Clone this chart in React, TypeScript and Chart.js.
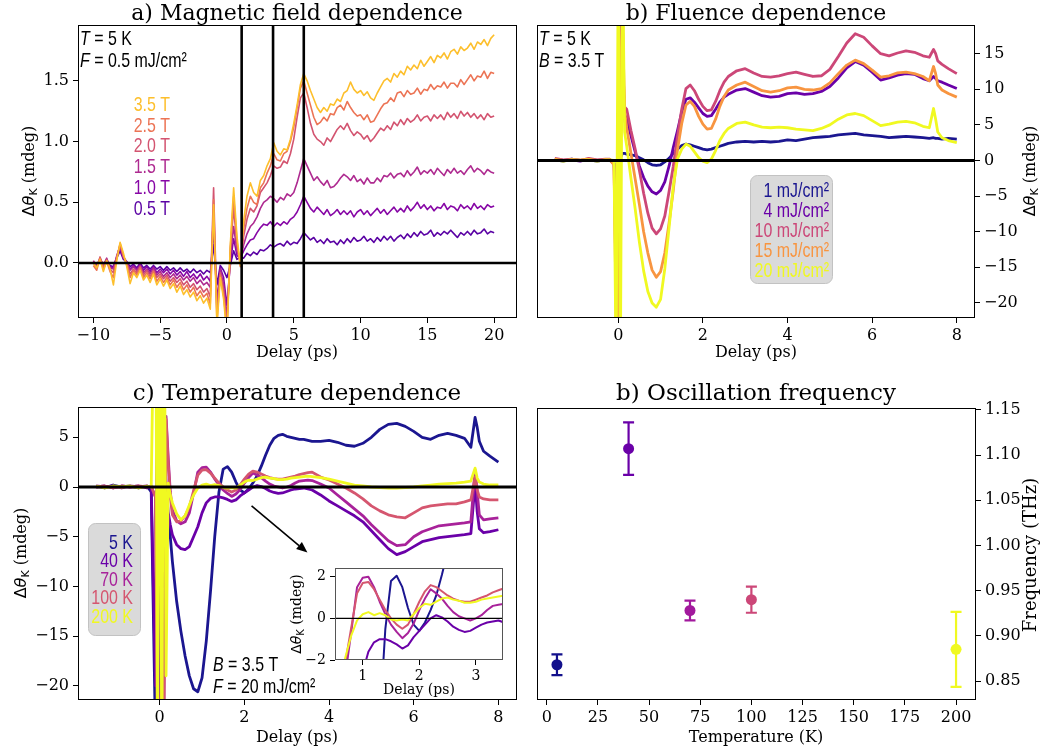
import React, { useEffect, useRef } from 'react';
import { Chart, registerables } from 'chart.js';

Chart.register(...registerables);

const W = 1048;
const H = 755;
const SERIF = '"DejaVu Serif", serif';
const SANS = '"DejaVu Sans", sans-serif';
const NARROW = '"Liberation Sans", Arial, sans-serif';
const NSX = 0.76;

// ---------------- (a) Magnetic field dependence ----------------
const delayA = [-10,-9.75,-9.5,-9.25,-9,-8.75,-8.5,-8.25,-8,-7.75,-7.5,-7.25,-7,-6.75,-6.5,-6.25,-6,-5.75,-5.5,-5.25,-5,-4.75,-4.5,-4.25,-4,-3.75,-3.5,-3.25,-3,-2.75,-2.5,-2.25,-2,-1.75,-1.5,-1.25,-1,-0.75,-0.5,-0.25,0,0.25,0.5,0.75,1,1.25,1.5,1.75,2,2.25,2.5,2.75,3,3.25,3.5,3.75,4,4.25,4.5,4.75,5,5.25,5.5,5.75,6,6.25,6.5,6.75,7,7.25,7.5,7.75,8,8.25,8.5,8.75,9,9.25,9.5,9.75,10,10.25,10.5,10.75,11,11.25,11.5,11.75,12,12.25,12.5,12.75,13,13.25,13.5,13.75,14,14.25,14.5,14.75,15,15.25,15.5,15.75,16,16.25,16.5,16.75,17,17.25,17.5,17.75,18,18.25,18.5,18.75,19,19.25,19.5,19.75,20];
const fieldLabels = ['0.5 T', '1.0 T', '1.5 T', '2.0 T', '2.5 T', '3.5 T'];
const fieldColors = ['#5a02a4', '#8707a6', '#ae2a90', '#d35470', '#ec7455', '#fdbf2c'];
const field05 = [0.00,-0.02,0.02,-0.01, 0.02,-0.02,-0.03,0.04, 0.10,0.03,0.01,-0.03, -0.01,-0.04,0.00,-0.04, -0.02,-0.05,-0.02,-0.05, -0.03,-0.06,-0.03,-0.06, -0.04,-0.07,-0.04,-0.07, -0.05,-0.08,-0.05,-0.08, -0.06,-0.09,-0.06,-0.08, 0.15,-0.18,-0.02,-0.06, -0.12,-0.02,0.10,0.03, 0.05,0.04,0.08,0.06, 0.09,0.07,0.11,0.10, 0.12,0.15,0.13,0.15, 0.16,0.14,0.18,0.15, 0.17,0.16,0.20,0.25, 0.22,0.19,0.21,0.17, 0.19,0.16,0.20,0.17, 0.18,0.15,0.19,0.16, 0.20,0.17,0.21,0.18, 0.19,0.22,0.18,0.20, 0.17,0.21,0.18,0.22, 0.19,0.22,0.18,0.21, 0.23,0.20,0.24,0.21, 0.25,0.22,0.26,0.23, 0.24,0.27,0.22,0.25, 0.23,0.26,0.24,0.27, 0.24,0.21,0.25,0.23, 0.26,0.23,0.27,0.24, 0.25,0.28,0.24,0.26, 0.25];
const field10 = [0.01,-0.02,0.03,-0.02, 0.03,-0.03,-0.04,0.05, 0.12,0.04,0.00,-0.05, -0.02,-0.05,-0.01,-0.06, -0.03,-0.07,-0.03,-0.08, -0.05,-0.08,-0.05,-0.09, -0.06,-0.10,-0.07,-0.11, -0.07,-0.12,-0.09,-0.13, -0.09,-0.14,-0.11,-0.15, 0.30,-0.32,-0.04,-0.12, -0.35,0.00,0.20,0.06, 0.04,0.10,0.15,0.19, 0.20,0.25,0.29,0.32, 0.31,0.34,0.30,0.33, 0.31,0.34,0.32,0.36, 0.38,0.42,0.48,0.55, 0.50,0.45,0.42,0.46, 0.43,0.40,0.44,0.39, 0.41,0.44,0.40,0.43, 0.40,0.43,0.38,0.42, 0.44,0.40,0.43,0.39, 0.42,0.45,0.41,0.44, 0.40,0.43,0.46,0.42, 0.45,0.42,0.47,0.43, 0.46,0.50,0.45,0.48, 0.44,0.47,0.43,0.46, 0.45,0.49,0.44,0.47, 0.46,0.43,0.48,0.45, 0.47,0.44,0.49,0.45, 0.47,0.44,0.48,0.46, 0.47];
const field15 = [0.02,-0.03,0.04,-0.02, 0.04,-0.04,-0.05,0.06, 0.14,0.05,0.01,-0.06, -0.03,-0.06,-0.02,-0.08, -0.05,-0.09,-0.04,-0.10, -0.07,-0.11,-0.08,-0.12, -0.09,-0.13,-0.10,-0.14, -0.11,-0.15,-0.12,-0.17, -0.14,-0.18,-0.16,-0.20, 0.42,-0.38,-0.05,-0.18, -0.45,0.05,0.30,0.10, 0.02,0.15,0.24,0.30, 0.33,0.38,0.45,0.50, 0.52,0.55,0.53,0.50, 0.54,0.52,0.57,0.55, 0.58,0.66,0.76,0.86, 0.80,0.74,0.68,0.71, 0.67,0.64,0.68,0.62, 0.63,0.66,0.70,0.73, 0.71,0.68,0.72,0.67, 0.69,0.65,0.70,0.66, 0.66,0.70,0.67,0.72, 0.71,0.74,0.70,0.73, 0.74,0.71,0.76,0.72, 0.75,0.79,0.73,0.76, 0.74,0.77,0.73,0.78, 0.75,0.72,0.77,0.74, 0.78,0.74,0.76,0.73, 0.77,0.80,0.75,0.78, 0.76,0.73,0.77,0.75, 0.74];
const field20 = [0.01,-0.04,0.05,-0.03, 0.03,-0.05,-0.08,0.05, 0.15,0.05,0.00,-0.09, -0.05,-0.08,-0.03,-0.10, -0.06,-0.11,-0.06,-0.12, -0.09,-0.13,-0.10,-0.15, -0.12,-0.16,-0.13,-0.18, -0.15,-0.20,-0.17,-0.22, -0.19,-0.24,-0.21,-0.28, 0.62,-0.42,-0.08,-0.22, -0.50,0.10,0.45,0.15, 0.00,0.22,0.36,0.45, 0.42,0.47,0.58,0.62, 0.66,0.72,0.80,0.78, 0.79,0.84,0.82,0.90, 1.02,1.20,1.36,1.40, 1.28,1.15,1.06,1.02, 1.00,0.97,1.03,1.00, 1.05,1.10,1.13,1.10, 1.15,1.09,1.05,1.08, 1.06,1.02,1.05,1.00, 1.03,1.07,1.11,1.09, 1.13,1.10,1.16,1.13, 1.18,1.14,1.19,1.16, 1.18,1.22,1.17,1.20, 1.21,1.17,1.22,1.19, 1.22,1.18,1.24,1.20, 1.23,1.19,1.25,1.21, 1.24,1.20,1.23,1.19, 1.22,1.18,1.23,1.20, 1.21];
const field25 = [-0.02,-0.06,0.04,-0.05, 0.01,-0.07,-0.12,0.04, 0.16,0.06,-0.01,-0.12, -0.06,-0.10,-0.04,-0.12, -0.08,-0.13,-0.07,-0.15, -0.11,-0.16,-0.12,-0.18, -0.14,-0.20,-0.16,-0.22, -0.18,-0.24,-0.20,-0.27, -0.23,-0.28,-0.25,-0.34, 0.52,-0.48,-0.10,-0.27, -0.55,0.12,0.55,0.18, -0.03,0.28,0.45,0.55, 0.50,0.48,0.62,0.66, 0.74,0.80,0.90,0.85, 0.84,0.90,0.92,1.00, 1.12,1.28,1.44,1.50, 1.40,1.30,1.20,1.14, 1.16,1.20,1.17,1.23, 1.22,1.28,1.30,1.26, 1.33,1.28,1.24,1.21, 1.22,1.18,1.22,1.16, 1.17,1.22,1.27,1.31, 1.32,1.36,1.33,1.40, 1.41,1.37,1.42,1.39, 1.40,1.44,1.39,1.43, 1.42,1.47,1.43,1.46, 1.45,1.49,1.44,1.48, 1.48,1.45,1.51,1.47, 1.51,1.55,1.50,1.54, 1.53,1.58,1.52,1.57, 1.56];
const field35 = [0.00,-0.04,0.03,-0.07, 0.02,-0.05,-0.18,0.02, 0.17,0.08,-0.03,-0.17, -0.08,-0.12,-0.06,-0.14, -0.10,-0.16,-0.09,-0.18, -0.13,-0.19,-0.14,-0.21, -0.17,-0.24,-0.19,-0.26, -0.22,-0.28,-0.24,-0.31, -0.27,-0.33,-0.29,-0.38, 0.48,-0.52,-0.12,-0.30, -0.60,0.15,0.62,0.22, -0.02,0.35,0.55,0.66, 0.58,0.55,0.68,0.72, 0.80,0.86,0.99,0.92, 0.89,0.94,0.93,1.02, 1.15,1.30,1.47,1.56, 1.50,1.42,1.35,1.28, 1.24,1.28,1.25,1.31, 1.30,1.35,1.33,1.40, 1.42,1.49,1.43,1.40, 1.42,1.38,1.41,1.36, 1.34,1.40,1.45,1.50, 1.52,1.49,1.56,1.53, 1.58,1.55,1.62,1.59, 1.63,1.60,1.67,1.62, 1.66,1.70,1.65,1.71, 1.69,1.73,1.68,1.74, 1.76,1.72,1.78,1.75, 1.77,1.81,1.76,1.82, 1.80,1.84,1.79,1.85, 1.88];
const fieldSeries = [field05, field10, field15, field20, field25, field35];
const fieldMarkers = [1.1, 3.45, 5.75];
const aTicksX = [-10, -5, 0, 5, 10, 15, 20];
const aTicksY = [0, 0.5, 1, 1.5];

// ---------------- (b) Fluence dependence ----------------
const delayB = [-1.5,-1.3,-1.1,-0.9,-0.7,-0.5,-0.3,-0.2,-0.1,-0.05,0,0.05,0.1,0.15,0.2,0.3,0.4,0.5,0.6,0.7,0.8,0.9,1.0,1.1,1.2,1.3,1.4,1.5,1.6,1.7,1.8,1.9,2.0,2.1,2.2,2.3,2.4,2.5,2.6,2.8,3.0,3.2,3.4,3.6,3.8,4.0,4.2,4.4,4.6,4.8,5.0,5.2,5.4,5.6,5.8,6.0,6.2,6.4,6.6,6.8,7.0,7.2,7.35,7.45,7.5,7.55,7.65,7.8,8.0];
const fluenceLabels = ['1 mJ/cm\u00b2', '4 mJ/cm\u00b2', '10 mJ/cm\u00b2', '15 mJ/cm\u00b2', '20 mJ/cm\u00b2'];
const fluenceColors = ['#1b1690', '#6a00a8', '#cc4778', '#f89540', '#f0f921'];
const flu1 = [0.1,-0.1,0.2,0.0,0.1,-0.1,0.1,0.0,-0.3,-2.0, -1.2,0.4,1.0,1.0,0.9, 0.8,0.7,0.4,0.1,-0.3,-0.6,-0.7,-0.6, -0.2,0.3,1.0,1.6,2.1,2.3,2.2,2.0,1.8,1.6,1.5,1.6,1.8,2.0,2.2,2.4, 2.6,2.7,2.6,2.7,2.6,2.7,2.9,2.8,3.0,3.2,3.3,3.4,3.6,3.7,3.8,3.6,3.5,3.4,3.2,3.3,3.4,3.3,3.2, 3.1,3.2,3.1,3.1,3.0,3.1,3.0];
const flu4 = [0.2,0.0,0.1,-0.1,0.2,0.0,0.1,0.1,-0.5,-6, -12,4,6,6.5,5.8, 3.5,1.2,-0.8,-2.4,-3.6,-4.4,-4.7,-4.2, -3.0,-0.8,1.8,4.2,6.8,8.6,8.8,8.2,7.4,6.6,6.2,6.3,7.2,8.2,8.9,9.3, 9.9,10.1,9.6,9.1,8.9,9.0,9.4,9.5,9.3,9.4,9.7,10.4,11.6,13.0,13.9,13.4,12.4,11.3,11.6,12.0,12.2,12.1,11.5, 11.2,11.8,11.5,11.2,11.0,10.6,10.1];
const flu10 = [0.3,0.1,0.2,0.0,0.3,0.1,0.2,0.2,-0.5,-18, -26,25,14,7.5,7.2, 4.2,1.6,-1.4,-4.6,-7.4,-9.5,-10.3,-9.6, -7.8,-4.4,-0.8,3.4,7.2,10.1,10.6,9.8,8.6,7.6,7.0,7.1,8.3,9.8,11.0,11.8, 12.6,12.9,12.3,11.8,11.7,11.9,12.2,12.4,12.1,11.8,11.9,12.8,14.6,16.5,17.8,17.3,16.1,15.0,14.7,15.1,15.4,15.2,14.7, 14.5,15.6,15.0,14.0,13.5,12.9,12.2];
const flu15 = [0.2,0.0,0.1,0.1,0.2,0.0,0.1,0.1,-0.6,-22, -26,12,20,7,4.6, 1.0,-2.6,-6.2,-10.0,-13.0,-15.4,-16.4,-15.6, -13.0,-8.8,-4.2,1.5,5.2,7.8,8.3,7.6,6.2,5.1,4.4,4.5,5.8,7.6,9.0,9.9, 10.6,11.0,10.4,9.8,9.6,9.8,10.2,10.3,10.0,9.9,10.1,10.9,12.2,13.4,14.1,13.6,12.7,11.7,11.9,12.3,12.4,12.2,11.8, 11.2,13.2,12.2,10.6,9.9,9.4,8.9];
const flu20 = [0.1,-0.1,0.1,0.0,0.1,-0.1,0.1,0.1,0.0,-30, 30,-30,30,4,2.0, -2.5,-6.8,-11.5,-15.5,-18.4,-20.0,-20.6,-19.5, -15.2,-9.5,-3.6,0.2,1.6,2.3,2.0,1.2,0.4,-0.1,-0.3,0.2,1.4,2.8,3.8,4.5, 5.2,5.4,5.0,4.7,4.6,4.7,4.6,4.4,4.3,4.2,4.5,5.0,5.8,6.4,6.6,6.3,5.6,4.9,5.1,5.4,5.5,5.3,4.8, 4.6,7.3,5.8,4.0,3.2,2.8,2.5];
const fluenceSeries = [flu1, flu4, flu10, flu15, flu20];
const bTicksX = [0, 2, 4, 6, 8];
const bTicksY = [-20, -15, -10, -5, 0, 5, 10, 15];

// ---------------- (c) Temperature dependence ----------------
const delayC = [-1.5,-1.3,-1.1,-0.9,-0.7,-0.5,-0.3,-0.2,-0.1,-0.05,0,0.05,0.1,0.15,0.2,0.25,0.3,0.4,0.5,0.6,0.7,0.8,0.9,1.0,1.1,1.2,1.3,1.4,1.5,1.6,1.7,1.8,1.9,2.0,2.1,2.2,2.3,2.4,2.5,2.6,2.7,2.8,2.9,3.0,3.1,3.2,3.3,3.4,3.5,3.6,3.8,4.0,4.2,4.4,4.6,4.8,5.0,5.2,5.4,5.6,5.8,6.0,6.2,6.4,6.6,6.8,7.0,7.2,7.35,7.45,7.5,7.55,7.65,7.8,8.0];
const tempLabels = ['5 K', '40 K', '70 K', '100 K', '200 K'];
const tempColors = ['#1b1690', '#6a00a8', '#a8229a', '#d5566f', '#f0f921'];
const temp5 = [0.1,-0.1,0.2,0.0,0.1,-0.1,0.1,-0.5,-25,25, -25,25,-10,-2,-3,-5,-7.5, -11.5,-14.5,-17.0,-19.0,-20.3,-20.6,-19.2,-15.5,-10.5,-5.0,-0.5,1.8,2.05,1.5,0.5,-0.3,-0.6,-0.2,0.4,1.1,2.1,3.2,4.2,4.9,5.2,5.3,5.1,5.0,4.9,4.8,4.8,4.7,4.6, 4.6,4.7,4.5,4.2,4.1,4.4,5.0,5.8,6.3,6.4,6.1,5.6,5.0,4.8,5.2,5.4,5.2,4.9, 4.0,7.0,6.0,4.6,3.6,3.1,2.5];
const temp40 = [0.0,0.1,-0.1,0.1,0.0,0.1,-0.1,0.0,-20,22, -25,25,5,0.5,-2.5,-3.8,-4.8, -5.8,-6.2,-6.3,-6.0,-5.0,-4.0,-2.6,-1.6,-1.15,-1.0,-1.0,-1.1,-1.25,-1.45,-1.3,-0.9,-0.6,-0.3,0.0,0.15,0.05,-0.15,-0.4,-0.55,-0.65,-0.6,-0.45,-0.3,-0.2,-0.15,-0.1,-0.2,-0.3, -0.8,-1.4,-1.9,-2.4,-2.9,-3.5,-4.4,-5.3,-6.2,-6.8,-6.5,-6.0,-5.5,-5.3,-5.1,-5.0,-4.9,-4.8, -4.7,0.4,-2.5,-4.2,-4.6,-4.5,-4.3];
const temp70 = [0.1,0.0,0.1,-0.1,0.1,0.0,0.1,0.0,-1,-25, -25,-18,-22,7.1,3.0,-0.5,-2.3, -3.4,-3.7,-3.5,-2.6,-0.6,1.5,1.95,2.0,1.5,0.8,0.2,-0.3,-0.65,-0.95,-0.7,-0.25,0.4,0.95,1.4,1.2,0.95,0.6,0.3,0.1,0.0,-0.1,0.0,0.15,0.4,0.6,0.65,0.7,0.65, 0.3,-0.1,-0.8,-1.5,-2.2,-2.9,-3.8,-4.6,-5.4,-5.9,-5.8,-5.0,-4.5,-4.2,-3.9,-3.8,-3.7,-3.6, -3.5,1.7,-0.5,-2.8,-3.3,-3.2,-3.1];
const temp100 = [0.0,0.1,-0.1,0.1,0.0,0.1,0.0,0.1,-1,-25, -25,-20,-24,6.8,2.5,-1.0,-2.8, -3.5,-3.4,-2.9,-2.0,-0.4,1.2,1.7,1.75,1.4,0.9,0.4,0.0,-0.3,-0.5,-0.3,0.2,0.8,1.3,1.6,1.5,1.3,1.1,0.95,0.85,0.8,0.8,0.9,1.0,1.1,1.25,1.35,1.45,1.5, 1.0,0.7,0.3,-0.1,-0.6,-1.2,-1.9,-2.4,-2.8,-3.0,-3.1,-2.6,-2.1,-1.9,-1.8,-1.7,-1.7,-1.5, -1.3,1.0,-0.3,-1.0,-1.2,-1.3,-1.3];
const temp200 = [0.1,-0.1,0.1,0.0,0.1,-0.1,0.1,0.0,30,-30, 30,-30,30,-19,0.4,-0.8,-1.6, -2.7,-3.3,-2.9,-1.8,-0.8,-0.1,0.2,0.3,0.15,0.25,0.15,-0.05,-0.1,-0.05,-0.1,0.2,0.5,0.7,0.65,0.8,0.95,1.0,0.9,0.85,0.75,0.75,0.8,0.9,0.95,1.0,1.05,1.1,1.05, 0.95,0.8,0.6,0.4,0.2,0.1,0.0,-0.05,-0.1,-0.1,-0.05,0.0,0.1,0.2,0.3,0.35,0.4,0.5, 0.6,1.9,0.9,0.5,0.3,0.2,0.2];
const tempSeries = [temp5, temp40, temp70, temp100, temp200];
const cTicksX = [0, 2, 4, 6, 8];
const cTicksY = [-20, -15, -10, -5, 0, 5];
const insetTicksX = [1, 2, 3];
const insetTicksY = [-2, 0, 2];
const arrowFrom = [2.17, -1.9];
const arrowTo = [3.49, -6.6];

// ---------------- (d) Oscillation frequency ----------------
const temps = [5, 40, 70, 100, 200];
const freq = [0.868, 1.107, 0.928, 0.940, 0.885];
const freqErr = [0.0115, 0.029, 0.011, 0.0145, 0.0415];
const dotColors = ['#13108c', '#6a00a8', '#a2199d', '#cc4778', '#f0f921'];
const dTicksX = [0, 25, 50, 75, 100, 125, 150, 175, 200];
const dTicksY = [0.85, 0.9, 0.95, 1.0, 1.05, 1.1, 1.15];

// ---------------- helpers ----------------
const minus = (s: string) => s.replace('-', '\u2212');
const fmt0 = (v: number) => minus(String(Math.round(v)));
const fmt1 = (v: number) => minus(v.toFixed(1));
const fmt2 = (v: number) => minus(v.toFixed(2));

type Run = { t: string; font: string; dy?: number };

function drawRich(ctx: CanvasRenderingContext2D, runs: Run[], x: number, y: number, align: string, color: string, rotation = 0, sx = 1) {
  ctx.save();
  ctx.translate(x, y);
  if (rotation) ctx.rotate(rotation);
  if (sx !== 1) ctx.scale(sx, 1);
  ctx.fillStyle = color;
  ctx.textBaseline = 'middle';
  ctx.textAlign = 'left';
  let total = 0;
  const ws = runs.map((r) => {
    ctx.font = r.font;
    const w = ctx.measureText(r.t).width;
    total += w;
    return w;
  });
  let cx = align === 'left' ? 0 : align === 'center' ? -total / 2 : -total;
  runs.forEach((r, i) => {
    ctx.font = r.font;
    ctx.fillText(r.t, cx, r.dy || 0);
    cx += ws[i];
  });
  ctx.restore();
}

function text(ctx: CanvasRenderingContext2D, t: string, x: number, y: number, font: string, align = 'center', color = '#000') {
  drawRich(ctx, [{ t, font }], x, y, align, color);
}

function thetaRuns(size: number): Run[] {
  return [
    { t: '\u0394', font: `${size}px ${SANS}` },
    { t: '\u03b8', font: `italic ${size}px ${SANS}` },
    { t: 'K', font: `${Math.round(size * 0.7)}px ${SANS}`, dy: size * 0.28 },
    { t: ' (mdeg)', font: `${size}px ${SERIF}` },
  ];
}

function narrowPair(ctx: CanvasRenderingContext2D, sym: string, rest: string, x: number, y: number) {
  drawRich(ctx, [
    { t: sym, font: `italic 21px ${NARROW}` },
    { t: rest, font: `21px ${NARROW}` },
  ], x, y, 'left', '#000', 0, NSX);
}

function hLine(chart: any, v: number, lw: number) {
  const ctx = chart.ctx;
  const a = chart.chartArea;
  const y = chart.scales.y.getPixelForValue(v);
  ctx.save();
  ctx.strokeStyle = '#000';
  ctx.lineWidth = lw;
  ctx.beginPath();
  ctx.moveTo(a.left, y);
  ctx.lineTo(a.right, y);
  ctx.stroke();
  ctx.restore();
}

function vLine(chart: any, v: number, lw: number) {
  const ctx = chart.ctx;
  const a = chart.chartArea;
  const x = chart.scales.x.getPixelForValue(v);
  ctx.save();
  ctx.strokeStyle = '#000';
  ctx.lineWidth = lw;
  ctx.beginPath();
  ctx.moveTo(x, a.top);
  ctx.lineTo(x, a.bottom);
  ctx.stroke();
  ctx.restore();
}

function legendBox(ctx: CanvasRenderingContext2D, x: number, y: number, w: number, h: number) {
  ctx.save();
  ctx.fillStyle = 'rgba(214,214,214,0.9)';
  ctx.strokeStyle = '#c2c2c2';
  ctx.lineWidth = 1;
  ctx.beginPath();
  (ctx as any).roundRect(x + 0.5, y + 0.5, w, h, 7);
  ctx.fill();
  ctx.stroke();
  ctx.restore();
}

function lineDs(xs: number[], ys: number[], color: string, width: number, order: number) {
  return {
    data: xs.map((x, i) => ({ x, y: ys[i] })),
    showLine: true,
    borderColor: color,
    backgroundColor: color,
    borderWidth: width,
    borderJoinStyle: 'round',
    pointRadius: 0,
    pointHoverRadius: 0,
    fill: false,
    tension: 0,
    clip: 0,
    order,
  };
}

type Axis = { min: number; max: number; ticks: number[]; fmt: (v: number) => string };
type Area = { l: number; r: number; t: number; b: number };

function build(canvas: HTMLCanvasElement, spec: any) {
  const yW = 60;
  const xH = 40;
  const area: Area = spec.area;
  const yRight = !!spec.yRight;
  const tickSize = spec.tickSize || 16;
  const padding = {
    left: yRight ? area.l : area.l - yW,
    right: yRight ? W - area.r - yW : W - area.r,
    top: area.t,
    bottom: H - area.b - xH,
  };
  const font = { family: 'DejaVu Serif', size: tickSize };
  const axis = (ax: Axis, pad: number) => ({
    type: 'linear',
    min: ax.min,
    max: ax.max,
    afterBuildTicks: (s: any) => {
      s.ticks = ax.ticks.map((v) => ({ value: v }));
    },
    ticks: {
      font,
      color: '#000',
      autoSkip: false,
      maxRotation: 0,
      minRotation: 0,
      padding: pad,
      callback: (v: any) => ax.fmt(Number(v)),
    },
    grid: {
      display: true,
      drawOnChartArea: false,
      drawTicks: true,
      tickLength: 5,
      tickColor: '#000',
      tickWidth: 1,
      color: '#000',
    },
    border: { display: false },
    title: { display: false },
  });
  const frameColor = spec.frameColor || '#000';
  const plugin = {
    id: 'panelDecor',
    beforeDraw(chart: any) {
      if (spec.whiteBg) {
        const a = chart.chartArea;
        chart.ctx.save();
        chart.ctx.fillStyle = '#fff';
        chart.ctx.fillRect(a.left, a.top, a.right - a.left, a.bottom - a.top);
        chart.ctx.restore();
      }
    },
    beforeDatasetsDraw(chart: any) {
      if (spec.before) spec.before(chart);
    },
    afterDatasetsDraw(chart: any) {
      if (spec.after) spec.after(chart);
    },
    afterDraw(chart: any) {
      const a = chart.chartArea;
      const ctx = chart.ctx;
      ctx.save();
      ctx.strokeStyle = frameColor;
      ctx.lineWidth = 1;
      ctx.strokeRect(a.left + 0.5, a.top + 0.5, a.right - a.left - 1, a.bottom - a.top - 1);
      ctx.restore();
      if (spec.labels) spec.labels(chart);
    },
  };
  return new Chart(canvas, {
    type: 'scatter',
    data: { datasets: spec.datasets },
    options: {
      responsive: false,
      maintainAspectRatio: false,
      animation: false,
      devicePixelRatio: 1,
      events: [],
      layout: { padding },
      plugins: { legend: { display: false }, tooltip: { enabled: false }, title: { display: false } },
      scales: {
        x: { ...axis(spec.x, 3), position: 'bottom', afterFit: (s: any) => { s.height = xH; } },
        y: { ...axis(spec.y, 4), position: yRight ? 'right' : 'left', afterFit: (s: any) => { s.width = yW; } },
      },
    } as any,
    plugins: [plugin],
  } as any);
}

const TITLE_TOP = `22px ${SERIF}`;
const TITLE_BOTTOM = `23px ${SERIF}`;
const LABEL_FONT = `16px ${SERIF}`;

function buildA(canvas: HTMLCanvasElement) {
  const n = fieldSeries.length;
  return build(canvas, {
    area: { l: 78, r: 517, t: 25, b: 318 },
    x: { min: -11.15, max: 21.71, ticks: aTicksX, fmt: fmt0 },
    y: { min: -0.453, max: 1.96, ticks: aTicksY, fmt: fmt1 },
    datasets: fieldSeries.map((s, i) => lineDs(delayA, s, fieldColors[i], 1.6, n - 1 - i)),
    after(chart: any) {
      hLine(chart, 0, 2.6);
      fieldMarkers.forEach((m) => vLine(chart, m, 2.6));
      const ctx = chart.ctx;
      narrowPair(ctx, 'T', ' = 5 K', 80, 39);
      narrowPair(ctx, 'F', ' = 0.5 mJ/cm\u00b2', 80, 61);
      for (let k = 0; k < n; k++) {
        const i = n - 1 - k;
        drawRich(ctx, [{ t: fieldLabels[i], font: `21px ${NARROW}` }], 170, 105 + k * 20.8, 'right', fieldColors[i], 0, NSX);
      }
    },
    labels(chart: any) {
      const ctx = chart.ctx;
      text(ctx, 'a) Magnetic field dependence', 297, 14, TITLE_TOP);
      text(ctx, 'Delay (ps)', 297, 353, LABEL_FONT);
      drawRich(ctx, thetaRuns(16), 30, 171, 'center', '#000', -Math.PI / 2);
    },
  });
}

function buildB(canvas: HTMLCanvasElement) {
  const n = fluenceSeries.length;
  return build(canvas, {
    area: { l: 537, r: 975, t: 25, b: 318 },
    yRight: true,
    x: { min: -1.92, max: 8.43, ticks: bTicksX, fmt: fmt0 },
    y: { min: -22.12, max: 19.03, ticks: bTicksY, fmt: fmt0 },
    datasets: fluenceSeries.map((s, i) => lineDs(delayB, s, fluenceColors[i], 2.8, n - 1 - i)),
    after(chart: any) {
      hLine(chart, 0, 3.2);
      const ctx = chart.ctx;
      narrowPair(ctx, 'T', ' = 5 K', 539, 39);
      narrowPair(ctx, 'B', ' = 3.5 T', 539, 61);
      legendBox(ctx, 750, 175, 82, 108);
      for (let i = 0; i < n; i++) {
        drawRich(ctx, [{ t: fluenceLabels[i], font: `21px ${NARROW}` }], 829, 191 + i * 20, 'right', fluenceColors[i], 0, NSX);
      }
    },
    labels(chart: any) {
      const ctx = chart.ctx;
      text(ctx, 'b) Fluence dependence', 756, 14, TITLE_TOP);
      text(ctx, 'Delay (ps)', 756, 353, LABEL_FONT);
      drawRich(ctx, thetaRuns(16), 1031, 171, 'center', '#000', -Math.PI / 2);
    },
  });
}

function drawArrow(chart: any) {
  const ctx = chart.ctx;
  const xs = chart.scales.x;
  const ys = chart.scales.y;
  const x0 = xs.getPixelForValue(arrowFrom[0]);
  const y0 = ys.getPixelForValue(arrowFrom[1]);
  const x1 = xs.getPixelForValue(arrowTo[0]);
  const y1 = ys.getPixelForValue(arrowTo[1]);
  const ang = Math.atan2(y1 - y0, x1 - x0);
  const hl = 11;
  const hw = 4.5;
  ctx.save();
  ctx.strokeStyle = '#000';
  ctx.fillStyle = '#000';
  ctx.lineWidth = 1.6;
  ctx.beginPath();
  ctx.moveTo(x0, y0);
  ctx.lineTo(x1 - hl * Math.cos(ang), y1 - hl * Math.sin(ang));
  ctx.stroke();
  ctx.beginPath();
  ctx.moveTo(x1, y1);
  ctx.lineTo(x1 - hl * Math.cos(ang) + hw * Math.sin(ang), y1 - hl * Math.sin(ang) - hw * Math.cos(ang));
  ctx.lineTo(x1 - hl * Math.cos(ang) - hw * Math.sin(ang), y1 - hl * Math.sin(ang) + hw * Math.cos(ang));
  ctx.closePath();
  ctx.fill();
  ctx.restore();
}

function buildC(canvas: HTMLCanvasElement) {
  const n = tempSeries.length;
  return build(canvas, {
    area: { l: 78, r: 517, t: 407, b: 700 },
    x: { min: -1.93, max: 8.44, ticks: cTicksX, fmt: fmt0 },
    y: { min: -21.43, max: 8.05, ticks: cTicksY, fmt: fmt0 },
    datasets: tempSeries.map((s, i) => lineDs(delayC, s, tempColors[i], 2.8, n - 1 - i)),
    after(chart: any) {
      hLine(chart, 0, 3.2);
      drawArrow(chart);
      const ctx = chart.ctx;
      legendBox(ctx, 88, 523, 52, 112);
      for (let i = 0; i < n; i++) {
        drawRich(ctx, [{ t: tempLabels[i], font: `21px ${NARROW}` }], 133, 543 + i * 18.5, 'right', tempColors[i], 0, NSX);
      }
      narrowPair(ctx, 'B', ' = 3.5 T', 213, 665);
      narrowPair(ctx, 'F', ' = 20 mJ/cm\u00b2', 213, 687);
    },
    labels(chart: any) {
      const ctx = chart.ctx;
      text(ctx, 'c) Temperature dependence', 297, 394, TITLE_BOTTOM);
      text(ctx, 'Delay (ps)', 297, 738, LABEL_FONT);
      drawRich(ctx, thetaRuns(16), 22, 553, 'center', '#000', -Math.PI / 2);
    },
  });
}

function buildInset(canvas: HTMLCanvasElement) {
  const n = tempSeries.length;
  return build(canvas, {
    area: { l: 335, r: 503, t: 568, b: 660 },
    tickSize: 14,
    whiteBg: true,
    frameColor: '#555',
    x: { min: 0.51, max: 3.48, ticks: insetTicksX, fmt: fmt0 },
    y: { min: -2.0, max: 2.42, ticks: insetTicksY, fmt: fmt0 },
    datasets: tempSeries.map((s, i) => lineDs(delayC, s, tempColors[i], 2.0, n - 1 - i)),
    after(chart: any) {
      hLine(chart, 0, 1.4);
    },
    labels(chart: any) {
      const ctx = chart.ctx;
      text(ctx, 'Delay (ps)', 419, 690, `14px ${SERIF}`);
      drawRich(ctx, thetaRuns(14), 297, 614, 'center', '#000', -Math.PI / 2);
    },
  });
}

function buildD(canvas: HTMLCanvasElement) {
  return build(canvas, {
    area: { l: 537, r: 976, t: 408, b: 700 },
    yRight: true,
    x: { min: -4.75, max: 209.75, ticks: dTicksX, fmt: fmt0 },
    y: { min: 0.829, max: 1.152, ticks: dTicksY, fmt: fmt2 },
    datasets: [
      {
        data: temps.map((t, i) => ({ x: t, y: freq[i] })),
        showLine: false,
        pointRadius: 5.5,
        pointBackgroundColor: dotColors,
        pointBorderColor: dotColors,
        pointBorderWidth: 0,
        clip: false,
      },
    ],
    before(chart: any) {
      const ctx = chart.ctx;
      const xs = chart.scales.x;
      const ys = chart.scales.y;
      temps.forEach((t, i) => {
        const x = xs.getPixelForValue(t);
        const yt = ys.getPixelForValue(freq[i] + freqErr[i]);
        const yb = ys.getPixelForValue(freq[i] - freqErr[i]);
        ctx.save();
        ctx.strokeStyle = dotColors[i];
        ctx.lineWidth = 2.2;
        ctx.beginPath();
        ctx.moveTo(x, yt);
        ctx.lineTo(x, yb);
        ctx.moveTo(x - 5.5, yt);
        ctx.lineTo(x + 5.5, yt);
        ctx.moveTo(x - 5.5, yb);
        ctx.lineTo(x + 5.5, yb);
        ctx.stroke();
        ctx.restore();
      });
    },
    labels(chart: any) {
      const ctx = chart.ctx;
      text(ctx, 'b) Oscillation frequency', 756, 394, TITLE_BOTTOM);
      text(ctx, 'Temperature (K)', 756, 738, LABEL_FONT);
      drawRich(ctx, [{ t: 'Frequency (THz)', font: `18px ${SERIF}` }], 1031, 555, 'center', '#000', -Math.PI / 2);
    },
  });
}

export default function App() {
  const rA = useRef<HTMLCanvasElement>(null);
  const rB = useRef<HTMLCanvasElement>(null);
  const rC = useRef<HTMLCanvasElement>(null);
  const rD = useRef<HTMLCanvasElement>(null);
  const rI = useRef<HTMLCanvasElement>(null);
  useEffect(() => {
    const charts = [
      buildA(rA.current as HTMLCanvasElement),
      buildB(rB.current as HTMLCanvasElement),
      buildC(rC.current as HTMLCanvasElement),
      buildD(rD.current as HTMLCanvasElement),
      buildInset(rI.current as HTMLCanvasElement),
    ];
    return () => charts.forEach((c) => c.destroy());
  }, []);
  const st: any = { position: 'absolute', left: 0, top: 0, width: W, height: H };
  return (
    <div style={{ position: 'fixed', left: 0, top: 0, width: W, height: H, background: '#fff', overflow: 'hidden' }}>
      <canvas ref={rA} width={W} height={H} style={st} />
      <canvas ref={rB} width={W} height={H} style={st} />
      <canvas ref={rC} width={W} height={H} style={st} />
      <canvas ref={rD} width={W} height={H} style={st} />
      <canvas ref={rI} width={W} height={H} style={st} />
    </div>
  );
}
